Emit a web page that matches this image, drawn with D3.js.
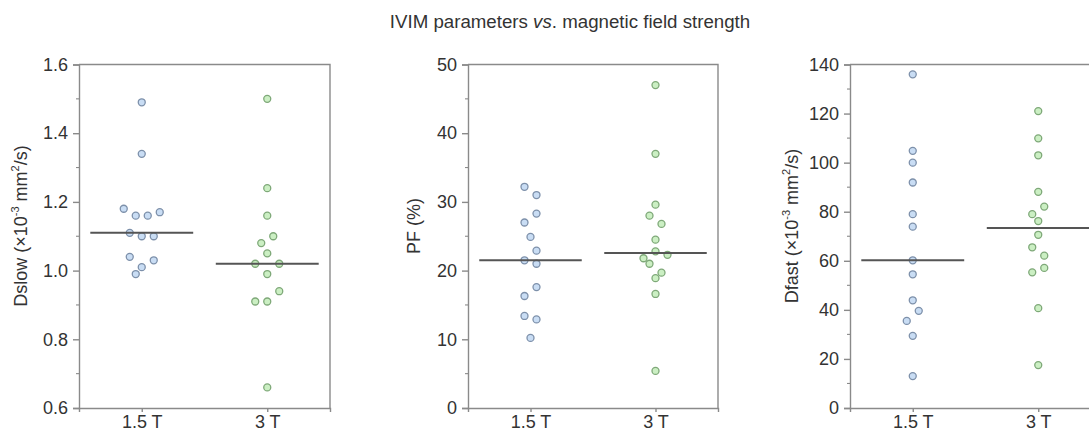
<!DOCTYPE html>
<html>
<head>
<meta charset="utf-8">
<script src="https://cdn.jsdelivr.net/npm/d3@7"></script>
<style>
  html, body { margin: 0; padding: 0; background: #fff; }
  svg { display: block; font-family: "Liberation Sans", Arial, Helvetica, sans-serif; }
</style>
</head>
<body>
<svg id="chart" width="1089" height="432"></svg>
<script>
// Field strengths compared on every panel
const categories = ["1.5 T", "3 T"];

// Dslow (×10^-3 mm²/s)
const dslow15 = [1.49, 1.34, 1.18, 1.16, 1.16, 1.17, 1.11, 1.10, 1.10, 1.04, 1.01, 1.03, 0.99];
const dslow3  = [1.50, 1.24, 1.16, 1.08, 1.10, 1.02, 1.05, 1.02, 0.99, 0.91, 0.91, 0.94, 0.66];
const dslowTicks = [0.6, 0.8, 1.0, 1.2, 1.4, 1.6];

// Perfusion fraction (%)
const pf15 = [32.2, 31.0, 27.0, 28.3, 24.9, 21.5, 22.9, 21.0, 16.3, 17.6, 13.4, 12.9, 10.2];
const pf3  = [47.0, 37.0, 29.6, 28.0, 26.8, 24.5, 21.8, 22.8, 22.3, 21.0, 19.7, 18.9, 16.6, 5.4];
const pfTicks = [0, 10, 20, 30, 40, 50];

// Dfast (×10^-3 mm²/s)
const dfast15 = [136.0, 104.8, 100.0, 91.9, 79.0, 73.9, 60.2, 54.5, 43.9, 35.5, 39.6, 29.4, 13.0];
const dfast3  = [121.0, 109.9, 103.0, 88.1, 79.0, 82.1, 76.2, 70.6, 65.5, 62.1, 55.3, 57.1, 40.7, 17.5];
const dfastTicks = [0, 20, 40, 60, 80, 100, 120, 140];

const titleText = ["IVIM parameters ", "vs", ". magnetic field strength"];

// ---- layout ----
const svg = d3.select("#chart");
const TOP = 64.5, BOTTOM = 408;
const AXIS_COLOR = "#8a8a8a";
const TEXT_COLOR = "#333";
const styles = [
  { fill: "#c9ddf4", stroke: "#7d90aa" },
  { fill: "#cbefc3", stroke: "#7ea878" }
];
const DOT_R = 3.5, UNIT = 6, ROW_GAP = 10.4, MIN_DIST = 7.5;

const panels = [
  { x0: 79,  x1: 330,  domain: [0.6, 1.6], ticks: dslowTicks, minorStep: 0.1, fmt: d3.format(".1f"),
    series: [dslow15, dslow3], labelX: 20.5, label: ["Dslow (×10", "-3", " mm", "2", "/s)"] },
  { x0: 468, x1: 718,  domain: [0, 50], ticks: pfTicks, minorStep: 5, fmt: d3.format("d"),
    series: [pf15, pf3], labelX: 414, label: ["PF (%)"] },
  { x0: 850, x1: 1101, domain: [0, 140], ticks: dfastTicks, minorStep: 10, fmt: d3.format("d"),
    series: [dfast15, dfast3], labelX: 792, label: ["Dfast (×10", "-3", " mm", "2", "/s)"] }
];

// Scatter-dot layout: values close in y share a row and spread symmetrically,
// then any dot still touching an earlier one is nudged sideways.
function swarm(values, y) {
  const order = d3.range(values.length).sort((a, b) => values[b] - values[a] || a - b);
  const rows = [];
  let cur = null;
  for (const i of order) {
    const py = y(values[i]);
    if (cur && py - cur.start <= ROW_GAP) cur.items.push(i);
    else { cur = { start: py, items: [i] }; rows.push(cur); }
  }
  const off = new Array(values.length);
  const placed = [];
  const hits = (i, o) => placed.some(j =>
    Math.hypot((o - off[j]) * UNIT, y(values[i]) - y(values[j])) < MIN_DIST);
  for (const row of rows) {
    const items = row.items.slice().sort((a, b) => a - b);
    const n = items.length;
    items.forEach((i, k) => {
      const base = 2 * k - (n - 1);
      const cands = [base];
      for (let s = 1; s <= 6; s++) cands.push(base - s, base + s);
      off[i] = cands.find(o => !hits(i, o));
      placed.push(i);
    });
  }
  return off.map(o => o * UNIT);
}

panels.forEach(p => {
  const g = svg.append("g");
  const x = d3.scalePoint().domain(categories).range([p.x0, p.x1]).padding(0.5);
  const y = d3.scaleLinear().domain(p.domain).range([BOTTOM, TOP]);

  // minor ticks
  const minor = d3.range(p.domain[0], p.domain[1] + 1e-9, p.minorStep)
    .filter(v => !p.ticks.some(t => Math.abs(t - v) < 1e-9));
  g.append("g").selectAll("line").data(minor).join("line")
    .attr("x1", p.x0 - 3).attr("x2", p.x0)
    .attr("y1", d => y(d)).attr("y2", d => y(d))
    .attr("stroke", AXIS_COLOR).attr("stroke-width", 1.1);

  // y axis
  const yAxis = g.append("g").attr("transform", `translate(${p.x0},0)`)
    .call(d3.axisLeft(y).tickValues(p.ticks).tickFormat(p.fmt).tickSize(6).tickPadding(5));
  // x axis
  const xAxis = g.append("g").attr("transform", `translate(0,${BOTTOM})`)
    .call(d3.axisBottom(x).tickSize(4));
  [yAxis, xAxis].forEach(ax => {
    ax.select(".domain").attr("stroke", AXIS_COLOR).attr("stroke-width", 1.4);
    ax.selectAll(".tick line").attr("stroke", AXIS_COLOR).attr("stroke-width", 1.4);
    ax.selectAll(".tick text").attr("fill", TEXT_COLOR)
      .style("font-size", "18px").style("font-family", "Liberation Sans, Arial, sans-serif");
  });
  // category labels sit on a baseline close to the bottom edge
  xAxis.selectAll(".tick text").attr("y", 20).attr("dy", 0);

  // top and right frame
  g.append("path")
    .attr("d", `M${p.x0},${TOP}H${p.x1}V${BOTTOM}`)
    .attr("fill", "none").attr("stroke", AXIS_COLOR).attr("stroke-width", 1.4);

  // y label
  const lab = g.append("text")
    .attr("transform", `translate(${p.labelX},226) rotate(-90)`)
    .attr("text-anchor", "middle").attr("dominant-baseline", "central")
    .attr("fill", TEXT_COLOR).style("font-size", "18px");
  p.label.forEach((part, k) => {
    const t = lab.append("tspan").text(part);
    if (k % 2 === 1) t.attr("baseline-shift", "super").style("font-size", "11px");
  });

  // dots and median bars
  p.series.forEach((vals, si) => {
    const cx = x(categories[si]);
    const offs = swarm(vals, y);
    g.append("g").selectAll("circle").data(vals).join("circle")
      .attr("cx", (d, i) => cx + offs[i])
      .attr("cy", d => y(d))
      .attr("r", DOT_R)
      .attr("fill", styles[si].fill)
      .attr("stroke", styles[si].stroke)
      .attr("stroke-width", 1.3);
    const med = d3.median(vals);
    const half = x.step() * 0.41;
    g.append("line")
      .attr("x1", cx - half).attr("x2", cx + half)
      .attr("y1", y(med)).attr("y2", y(med))
      .attr("stroke", "#555").attr("stroke-width", 2);
  });
});

// title
const title = svg.append("text")
  .attr("x", 570).attr("y", 28)
  .attr("text-anchor", "middle")
  .attr("fill", TEXT_COLOR).style("font-size", "18.7px");
titleText.forEach((part, k) => {
  const t = title.append("tspan").text(part);
  if (k === 1) t.style("font-style", "italic");
});
</script>
</body>
</html>
